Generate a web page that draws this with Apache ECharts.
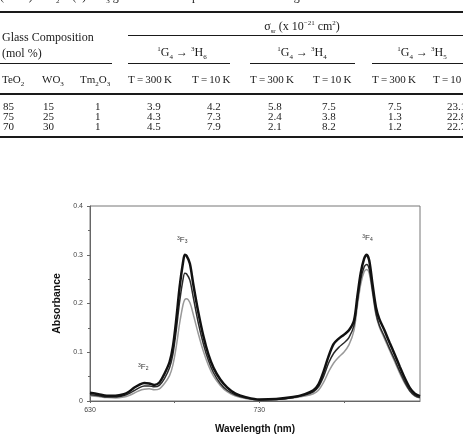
<!DOCTYPE html>
<html>
<head>
<meta charset="utf-8">
<script src="https://cdn.jsdelivr.net/npm/echarts@6/dist/echarts.min.js"></script>
<style>
  html, body { margin: 0; padding: 0; background: #fff; }
  #page { position: relative; width: 463px; height: 437px; overflow: hidden; }
  #chart { position: absolute; left: 0; top: 0; width: 463px; height: 437px; }
  .t { position: absolute; font-family: "Liberation Serif", serif; font-size: 11px; color: #1a1a1a; white-space: nowrap; line-height: 11px; }
  .big { font-size: 12px; line-height: 12px; }
  .rule { position: absolute; background: #1a1a1a; }
  sub, sup { font-size: 7px; line-height: 0; }
</style>
</head>
<body>
<div id="page">
  <div id="chart"></div>
  <div id="table"></div>
</div>
<script>
// table data
const compTeO2 = [85, 75, 70]
const compWO3 = [15, 25, 30]
const compTm2O3 = [1, 1, 1]
const h6At300 = [3.9, 4.3, 4.5]
const h6At10 = [4.2, 7.3, 7.9]
const h4At300 = [5.8, 2.4, 2.1]
const h4At10 = [7.5, 3.8, 8.2]
const h5At300 = [7.5, 1.3, 1.2]
const h5At10 = [23.1, 22.8, 22.7]

// spectrum data
const wavelength = [630, 635, 640, 645, 650, 653, 656, 659, 662, 665, 668, 671, 674, 677, 679, 681, 683, 685, 686, 687, 689, 691, 694, 697, 700, 703, 707, 711, 716, 722, 730, 740, 750, 757, 762, 765, 768, 771, 774, 777, 780, 783, 786, 788, 790, 792, 793.5, 795, 797, 799, 801, 804, 807, 810, 813, 816, 819, 822, 825]
const absTop = [0.017, 0.014, 0.011, 0.011, 0.014, 0.019, 0.027, 0.033, 0.037, 0.036, 0.033, 0.038, 0.056, 0.080, 0.112, 0.168, 0.235, 0.285, 0.300, 0.298, 0.282, 0.240, 0.182, 0.133, 0.095, 0.068, 0.044, 0.028, 0.015, 0.008, 0.003, 0.004, 0.008, 0.014, 0.022, 0.034, 0.060, 0.092, 0.117, 0.128, 0.136, 0.145, 0.165, 0.215, 0.263, 0.292, 0.300, 0.288, 0.238, 0.192, 0.168, 0.145, 0.120, 0.096, 0.071, 0.047, 0.027, 0.015, 0.010]
const absMid = [0.013, 0.011, 0.008, 0.008, 0.011, 0.015, 0.021, 0.027, 0.031, 0.031, 0.029, 0.032, 0.046, 0.068, 0.096, 0.146, 0.205, 0.250, 0.262, 0.261, 0.248, 0.213, 0.160, 0.117, 0.083, 0.058, 0.036, 0.022, 0.012, 0.006, 0.002, 0.003, 0.007, 0.012, 0.019, 0.029, 0.050, 0.078, 0.098, 0.110, 0.119, 0.130, 0.155, 0.205, 0.250, 0.275, 0.280, 0.270, 0.225, 0.180, 0.155, 0.132, 0.108, 0.085, 0.061, 0.039, 0.021, 0.011, 0.007]
const absLow = [0.011, 0.009, 0.007, 0.006, 0.008, 0.011, 0.016, 0.021, 0.024, 0.025, 0.023, 0.025, 0.036, 0.052, 0.074, 0.112, 0.160, 0.198, 0.208, 0.210, 0.202, 0.178, 0.138, 0.102, 0.073, 0.051, 0.032, 0.019, 0.010, 0.005, 0.002, 0.003, 0.006, 0.010, 0.015, 0.022, 0.038, 0.060, 0.078, 0.090, 0.100, 0.115, 0.145, 0.195, 0.240, 0.265, 0.270, 0.262, 0.220, 0.176, 0.152, 0.128, 0.104, 0.081, 0.057, 0.036, 0.020, 0.010, 0.006]
const xLabels = [630, 730]
const peakNames = ['F2', 'F3', 'F4']
const peakAt = [[661.5, 0.07], [684.5, 0.33], [794, 0.334]]

// --- table (html) ---
const table = document.getElementById('table')
const addText = (html, x, y, center, big) => {
  const el = document.createElement('div')
  el.className = big ? 't big' : 't'
  el.innerHTML = html
  el.style.top = (y - (big ? 7 : 6)) + 'px'
  el.style.left = x + 'px'
  if (center) el.style.transform = 'translateX(-50%)'
  table.appendChild(el)
}
const addRule = (x1, x2, y, h) => {
  const el = document.createElement('div')
  el.className = 'rule'
  el.style.left = x1 + 'px'
  el.style.width = (x2 - x1) + 'px'
  el.style.top = y + 'px'
  el.style.height = h + 'px'
  table.appendChild(el)
}

addText('(1 − x) TeO<sub>2</sub> − (x)WO<sub>3</sub> glass observed upon 457.9 nm laser light excitation', 0, -3, false, true)
addRule(0, 463, 11, 2)
addText('σ<sub>sr</sub> (x 10<sup>−21</sup> cm<sup>2</sup>)', 302, 27, true, true)
addRule(128, 463, 35, 1)
addText('Glass Composition', 2, 38, false, true)
addText('(mol %)', 2, 54, false, true)
addText('<sup>1</sup>G<sub>4</sub> → <sup>3</sup>H<sub>6</sub>', 182, 53, true, true)
addText('<sup>1</sup>G<sub>4</sub> → <sup>3</sup>H<sub>4</sub>', 302, 53, true, true)
addText('<sup>1</sup>G<sub>4</sub> → <sup>3</sup>H<sub>5</sub>', 422, 53, true, true)
addRule(0, 112, 63, 1)
addRule(128, 230, 63, 1)
addRule(250, 355, 63, 1)
addRule(372, 463, 63, 1)
addText('TeO<sub>2</sub>', 2, 80)
addText('WO<sub>3</sub>', 42, 80)
addText('Tm<sub>2</sub>O<sub>3</sub>', 80, 80)
const tempHeads = ['T\u2009=\u2009300\u2009K', 'T\u2009=\u200910\u2009K', 'T\u2009=\u2009300\u2009K', 'T\u2009=\u200910\u2009K', 'T\u2009=\u2009300\u2009K', 'T\u2009=\u200910\u2009K']
const tempX = [128, 192, 250, 313, 372, 433]
tempHeads.forEach((h, i) => addText(h, tempX[i], 80))
addRule(0, 463, 93, 2)

const cols = [compTeO2, compWO3, compTm2O3, h6At300, h6At10, h4At300, h4At10, h5At300, h5At10]
const colX = [3, 43, 95, 147, 207, 268, 322, 388, 447]
const rowY = [107, 117, 127]
cols.forEach((col, c) => {
  col.forEach((v, r) => addText(String(v), colX[c], rowY[r]))
})
addRule(0, 463, 136, 2)

// --- chart ---
const chart = echarts.init(document.getElementById('chart'))
const pairs = arr => wavelength.map((w, i) => [w, arr[i]])
const tickFont = { fontFamily: 'Liberation Sans', fontSize: 7, color: '#444' }

chart.setOption({
  animation: false,
  grid: {
    left: 90, top: 206, width: 330, height: 195,
    show: true, borderColor: '#777', borderWidth: 1
  },
  xAxis: {
    type: 'value', min: 630, max: 825, interval: 50,
    name: 'Wavelength (nm)', nameLocation: 'middle', nameGap: 23,
    nameTextStyle: { fontFamily: 'Liberation Sans', fontWeight: 'bold', fontSize: 10, color: '#111' },
    axisLine: { lineStyle: { color: '#666', width: 1 } },
    axisTick: { length: 2, lineStyle: { color: '#666' } },
    splitLine: { show: false },
    axisLabel: Object.assign({
      margin: 6, showMaxLabel: false,
      formatter: v => (xLabels.includes(v) ? String(v) : '')
    }, tickFont)
  },
  yAxis: {
    type: 'value', min: 0, max: 0.4, interval: 0.1,
    name: 'Absorbance', nameLocation: 'middle', nameGap: 14,
    nameTextStyle: { fontFamily: 'Liberation Sans', fontWeight: 'bold', fontSize: 10.5, color: '#111' },
    axisLine: { show: true, lineStyle: { color: '#666', width: 1 } },
    axisTick: { show: true, length: 3, lineStyle: { color: '#666' } },
    minorTick: { show: true, splitNumber: 2, length: 2, lineStyle: { color: '#666' } },
    splitLine: { show: false },
    axisLabel: Object.assign({
      margin: 7,
      formatter: v => (v === 0 ? '0' : v.toFixed(1))
    }, tickFont)
  },
  series: [
    {
      type: 'line', data: pairs(absLow), smooth: 0.3, symbol: 'none',
      lineStyle: { color: '#999', width: 1.5 }, z: 2
    },
    {
      type: 'line', data: pairs(absMid), smooth: 0.3, symbol: 'none',
      lineStyle: { color: '#2a2a2a', width: 1.5 }, z: 3
    },
    {
      type: 'line', data: pairs(absTop), smooth: 0.3, symbol: 'none',
      lineStyle: { color: '#111', width: 2.5 }, z: 4,
      markPoint: {
        symbol: 'circle', symbolSize: 1,
        itemStyle: { color: 'rgba(0,0,0,0)' },
        label: {
          show: true, position: 'inside',
          formatter: p => '{s|3}{b|' + p.name.charAt(0) + '}{d|' + p.name.charAt(1) + '}',
          rich: {
            s: { fontSize: 5, color: '#333', verticalAlign: 'top', fontFamily: 'Liberation Sans' },
            b: { fontSize: 8, color: '#333', fontFamily: 'Liberation Sans' },
            d: { fontSize: 5, color: '#333', verticalAlign: 'bottom', fontFamily: 'Liberation Sans', padding: [3, 0, 0, 0] }
          }
        },
        data: peakNames.map((n, i) => ({ name: n, coord: peakAt[i] }))
      }
    }
  ]
})
</script>
</body>
</html>
